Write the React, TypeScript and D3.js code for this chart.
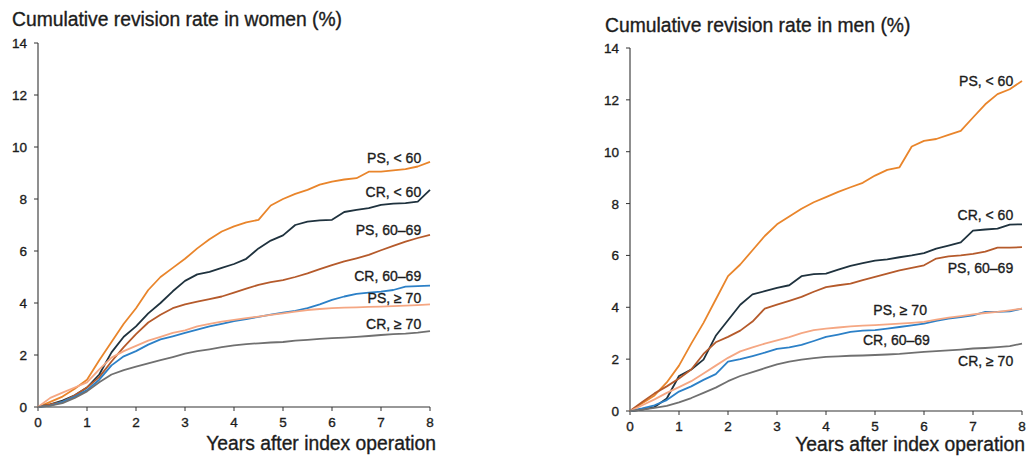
import React from "react";
import * as d3 from "d3";

const years = [0, 0.25, 0.5, 0.75, 1, 1.25, 1.5, 1.75, 2, 2.25, 2.5, 2.75, 3, 3.25, 3.5, 3.75, 4, 4.25, 4.5, 4.75, 5, 5.25, 5.5, 5.75, 6, 6.25, 6.5, 6.75, 7, 7.25, 7.5, 7.75, 8];
const xTicks = [0, 1, 2, 3, 4, 5, 6, 7, 8];
const yTicks = [0, 2, 4, 6, 8, 10, 12, 14];

const womenPSlt60 = [0, 0.2, 0.4, 0.7, 1.05, 1.8, 2.5, 3.2, 3.8, 4.5, 5.0, 5.35, 5.7, 6.1, 6.45, 6.75, 6.95, 7.1, 7.2, 7.75, 8.0, 8.2, 8.35, 8.55, 8.67, 8.75, 8.8, 9.05, 9.05, 9.1, 9.15, 9.25, 9.43];
const womenCRlt60 = [0, 0.1, 0.25, 0.45, 0.75, 1.25, 2.1, 2.7, 3.1, 3.6, 4.0, 4.45, 4.85, 5.1, 5.2, 5.35, 5.5, 5.7, 6.1, 6.4, 6.6, 7.0, 7.13, 7.18, 7.2, 7.5, 7.58, 7.65, 7.77, 7.82, 7.84, 7.9, 8.35];
const womenPS6069 = [0, 0.1, 0.2, 0.45, 0.75, 1.15, 1.75, 2.3, 2.8, 3.25, 3.55, 3.8, 3.95, 4.05, 4.15, 4.25, 4.4, 4.55, 4.7, 4.8, 4.88, 5.0, 5.14, 5.3, 5.46, 5.6, 5.72, 5.85, 6.03, 6.2, 6.36, 6.5, 6.62];
const womenCR6069 = [0, 0.05, 0.2, 0.4, 0.65, 1.05, 1.6, 1.95, 2.15, 2.4, 2.6, 2.72, 2.85, 2.98, 3.1, 3.2, 3.3, 3.38, 3.47, 3.55, 3.63, 3.7, 3.8, 3.95, 4.12, 4.25, 4.35, 4.4, 4.44, 4.5, 4.63, 4.65, 4.67];
const womenPSge70 = [0, 0.35, 0.55, 0.75, 0.95, 1.45, 1.9, 2.15, 2.35, 2.55, 2.7, 2.85, 2.95, 3.1, 3.2, 3.28, 3.35, 3.42, 3.48, 3.54, 3.6, 3.67, 3.73, 3.77, 3.8, 3.82, 3.83, 3.85, 3.86, 3.88, 3.9, 3.92, 3.95];
const womenCRge70 = [0, 0.05, 0.15, 0.35, 0.6, 0.95, 1.25, 1.42, 1.55, 1.68, 1.8, 1.92, 2.05, 2.15, 2.22, 2.3, 2.37, 2.42, 2.45, 2.48, 2.5, 2.55, 2.58, 2.62, 2.65, 2.67, 2.7, 2.73, 2.77, 2.8, 2.82, 2.86, 2.92];

const menPSlt60 = [0, 0.3, 0.6, 1.1, 1.75, 2.6, 3.4, 4.3, 5.2, 5.65, 6.2, 6.75, 7.2, 7.5, 7.8, 8.05, 8.25, 8.45, 8.63, 8.8, 9.08, 9.3, 9.4, 10.2, 10.42, 10.49, 10.65, 10.8, 11.32, 11.83, 12.22, 12.41, 12.73];
const menCRlt60 = [0, 0.05, 0.15, 0.48, 1.35, 1.6, 1.98, 2.9, 3.5, 4.1, 4.5, 4.62, 4.75, 4.85, 5.2, 5.28, 5.3, 5.45, 5.6, 5.7, 5.8, 5.85, 5.93, 6.0, 6.09, 6.26, 6.38, 6.5, 6.96, 7.0, 7.03, 7.19, 7.2];
const menPS6069 = [0, 0.35, 0.68, 0.95, 1.25, 1.6, 2.2, 2.65, 2.86, 3.1, 3.45, 3.95, 4.1, 4.25, 4.4, 4.6, 4.78, 4.85, 4.91, 5.05, 5.17, 5.3, 5.42, 5.52, 5.62, 5.88, 5.96, 6.0, 6.06, 6.15, 6.3, 6.3, 6.32];
const menCR6069 = [0, 0.1, 0.22, 0.42, 0.75, 0.95, 1.2, 1.42, 1.9, 2.0, 2.12, 2.25, 2.4, 2.45, 2.55, 2.7, 2.86, 2.95, 3.05, 3.1, 3.12, 3.18, 3.24, 3.3, 3.37, 3.48, 3.56, 3.62, 3.69, 3.82, 3.82, 3.84, 3.95];
const menPSge70 = [0, 0.22, 0.45, 0.7, 0.92, 1.15, 1.45, 1.75, 2.05, 2.3, 2.45, 2.6, 2.72, 2.85, 3.0, 3.12, 3.18, 3.22, 3.26, 3.29, 3.31, 3.34, 3.37, 3.4, 3.44, 3.52, 3.6, 3.66, 3.73, 3.78, 3.82, 3.88, 3.95];
const menCRge70 = [0, 0.05, 0.12, 0.2, 0.33, 0.5, 0.7, 0.9, 1.15, 1.35, 1.5, 1.65, 1.8, 1.9, 1.98, 2.04, 2.09, 2.11, 2.13, 2.14, 2.16, 2.18, 2.2, 2.24, 2.28, 2.31, 2.34, 2.37, 2.41, 2.43, 2.46, 2.5, 2.6];

const seriesNames = ["PS, < 60", "CR, < 60", "PS, 60–69", "CR, 60–69", "PS, ≥ 70", "CR, ≥ 70"];
const seriesColors = ["#E9852B", "#1F323E", "#B55A2B", "#2C80C7", "#F5A783", "#707070"];

const womenValues = [womenPSlt60, womenCRlt60, womenPS6069, womenCR6069, womenPSge70, womenCRge70];
const menValues = [menPSlt60, menCRlt60, menPS6069, menCR6069, menPSge70, menCRge70];

// label anchor (right end x in years, vertical center in %)
const womenLabelPos = [[7.82, 9.58], [7.82, 8.27], [7.82, 6.81], [7.82, 5.04], [7.82, 4.19], [7.82, 3.19]];
const menLabelPos = [[7.82, 12.73], [7.82, 7.54], [7.82, 5.5], [6.12, 2.73], [6.06, 3.88], [7.82, 1.92]];

const FONT = "Liberation Sans, Arial, Helvetica, sans-serif";
const TXT = "#1c1c1c";

type PanelProps = {
  title: string;
  values: number[][];
  labelPos: number[][];
  x0: number; x1: number; yTop: number; yBottom: number;
  titleX: number; titleY: number;
  tickLabelY: number;
  xTitleX: number; xTitleY: number;
};

const textStyle = { stroke: TXT, strokeWidth: 0.35 } as const;

function Panel(p: PanelProps) {
  const x = d3.scaleLinear().domain([0, 8]).range([p.x0, p.x1]);
  const y = d3.scaleLinear().domain([0, 14]).range([p.yBottom, p.yTop]);
  const line = d3.line<number>().x((_, i) => x(years[i])).y((d) => y(d)).curve(d3.curveLinear);
  return (
    <g>
      <text x={p.titleX} y={p.titleY} fontSize={19.3} fill={TXT} fontFamily={FONT} {...textStyle}>{p.title}</text>
      <line x1={p.x0} x2={p.x0} y1={y(14)} y2={y(0)} stroke="#333" strokeWidth={1.1} />
      <line x1={p.x0} x2={p.x1} y1={y(0)} y2={y(0)} stroke="#333" strokeWidth={1.1} />
      {yTicks.map((t) => (
        <g key={"y" + t}>
          <line x1={p.x0 - 4} x2={p.x0} y1={y(t)} y2={y(t)} stroke="#333" />
          <text x={p.x0 - 11} y={y(t) + 5} textAnchor="end" fontSize={13.5} fill={TXT} fontFamily={FONT} {...textStyle}>{t}</text>
        </g>
      ))}
      {xTicks.map((t) => (
        <g key={"x" + t}>
          <line x1={x(t)} x2={x(t)} y1={y(0)} y2={y(0) + 4} stroke="#333" />
          <text x={x(t)} y={p.tickLabelY} textAnchor="middle" fontSize={13.5} fill={TXT} fontFamily={FONT} {...textStyle}>{t}</text>
        </g>
      ))}
      <text x={p.xTitleX} y={p.xTitleY} textAnchor="end" fontSize={19.3} fill={TXT} fontFamily={FONT} {...textStyle}>Years after index operation</text>
      {p.values.map((v, i) => (
        <path key={"s" + i} d={line(v) || ""} fill="none" stroke={seriesColors[i]} strokeWidth={1.8} strokeLinejoin="round" />
      ))}
      {p.labelPos.map((lp, i) => (
        <text key={"l" + i} x={x(lp[0])} y={y(lp[1]) + 5} textAnchor="end" fontSize={14} fill={TXT} fontFamily={FONT} {...textStyle}>{seriesNames[i]}</text>
      ))}
    </g>
  );
}

export default function App() {
  return (
    <svg width={1027} height={456} style={{ position: "absolute", left: 0, top: 0, background: "#fff" }}>
      <rect width={1027} height={456} fill="#fff" />
      <Panel title="Cumulative revision rate in women (%)" values={womenValues} labelPos={womenLabelPos}
        x0={38} x1={430} yTop={43} yBottom={407} titleX={12} titleY={26} tickLabelY={427} xTitleX={436} xTitleY={450} />
      <Panel title="Cumulative revision rate in men (%)" values={menValues} labelPos={menLabelPos}
        x0={630} x1={1022} yTop={48} yBottom={411} titleX={605} titleY={32} tickLabelY={431} xTitleX={1025} xTitleY={451} />
    </svg>
  );
}
